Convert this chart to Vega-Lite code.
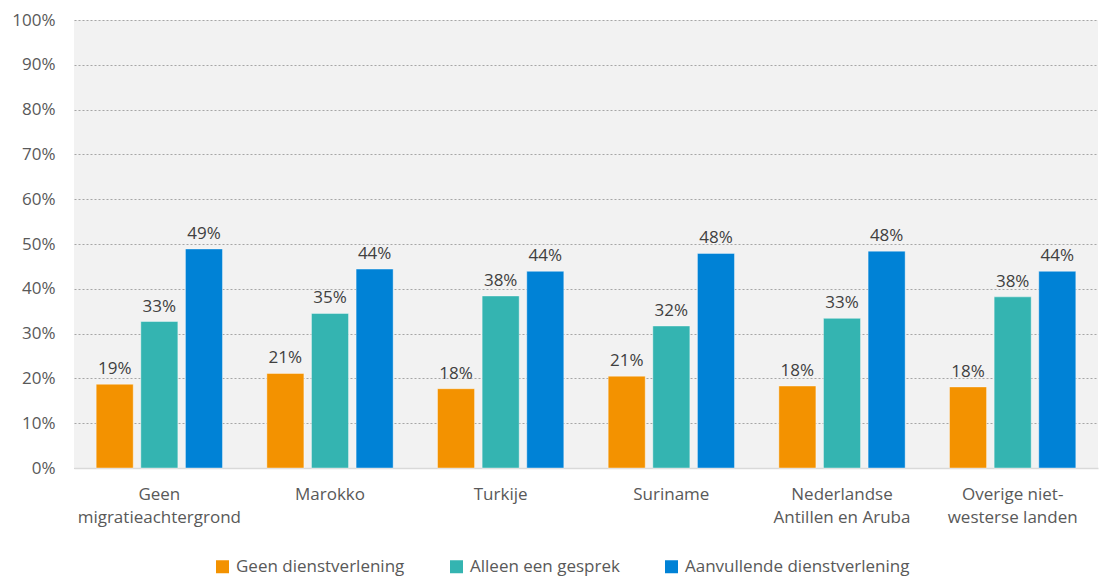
{
  "$schema": "https://vega.github.io/schema/vega-lite/v6.json",
  "width": 1024,
  "height": 448,
  "autosize": {"type": "none"},
  "padding": {"left": 74, "top": 20, "right": 1, "bottom": 108},
  "background": "white",
  "view": {"fill": "#f2f2f2", "stroke": null},
  "data": {
    "values": [
      {"groep": "Geen migratieachtergrond", "type": "Geen dienstverlening", "waarde": 0.187},
      {"groep": "Geen migratieachtergrond", "type": "Alleen een gesprek", "waarde": 0.327},
      {"groep": "Geen migratieachtergrond", "type": "Aanvullende dienstverlening", "waarde": 0.489},
      {"groep": "Marokko", "type": "Geen dienstverlening", "waarde": 0.211},
      {"groep": "Marokko", "type": "Alleen een gesprek", "waarde": 0.345},
      {"groep": "Marokko", "type": "Aanvullende dienstverlening", "waarde": 0.444},
      {"groep": "Turkije", "type": "Geen dienstverlening", "waarde": 0.177},
      {"groep": "Turkije", "type": "Alleen een gesprek", "waarde": 0.384},
      {"groep": "Turkije", "type": "Aanvullende dienstverlening", "waarde": 0.439},
      {"groep": "Suriname", "type": "Geen dienstverlening", "waarde": 0.205},
      {"groep": "Suriname", "type": "Alleen een gesprek", "waarde": 0.317},
      {"groep": "Suriname", "type": "Aanvullende dienstverlening", "waarde": 0.479},
      {"groep": "Nederlandse Antillen en Aruba", "type": "Geen dienstverlening", "waarde": 0.183},
      {"groep": "Nederlandse Antillen en Aruba", "type": "Alleen een gesprek", "waarde": 0.334},
      {"groep": "Nederlandse Antillen en Aruba", "type": "Aanvullende dienstverlening", "waarde": 0.484},
      {"groep": "Overige niet-westerse landen", "type": "Geen dienstverlening", "waarde": 0.181},
      {"groep": "Overige niet-westerse landen", "type": "Alleen een gesprek", "waarde": 0.382},
      {"groep": "Overige niet-westerse landen", "type": "Aanvullende dienstverlening", "waarde": 0.439}
    ]
  },
  "encoding": {
    "x": {
      "field": "groep", "type": "nominal", "sort": null, "title": null,
      "scale": {"paddingInner": 0.26, "paddingOuter": 0.13},
      "axis": {
        "labelAngle": 0, "ticks": false, "domainColor": "#d9d9d9", "domainWidth": 1.5,
        "labelPadding": 18, "labelLineHeight": 23,
        "labelFont": "Open Sans", "labelColor": "#595959", "labelFontSize": 17,
        "labelExpr": "datum.value == 'Geen migratieachtergrond' ? ['Geen', 'migratieachtergrond'] : datum.value == 'Nederlandse Antillen en Aruba' ? ['Nederlandse', 'Antillen en Aruba'] : datum.value == 'Overige niet-westerse landen' ? ['Overige niet-', 'westerse landen'] : datum.value"
      }
    },
    "xOffset": {"field": "type", "type": "nominal", "sort": null, "scale": {"paddingInner": 0.17}},
    "y": {
      "field": "waarde", "type": "quantitative", "title": null,
      "scale": {"domain": [0, 1], "nice": false},
      "axis": {
        "format": ".0%", "values": [0, 0.1, 0.2, 0.3, 0.4, 0.5, 0.6, 0.7, 0.8, 0.9, 1],
        "labelOverlap": false,
        "domain": false, "ticks": false, "labelPadding": 19,
        "labelFont": "Open Sans", "labelColor": "#595959", "labelFontSize": 17,
        "gridColor": "#a6a6a6", "gridDash": [2, 2], "gridWidth": 1
      }
    }
  },
  "layer": [
    {
      "mark": {"type": "bar", "stroke": "white", "strokeOpacity": 0.4, "strokeWidth": 1},
      "encoding": {
        "color": {
          "field": "type", "type": "nominal", "sort": null,
          "scale": {
            "domain": ["Geen dienstverlening", "Alleen een gesprek", "Aanvullende dienstverlening"],
            "range": ["#f39200", "#34b4b1", "#0082d6"]
          },
          "legend": {
            "title": null, "orient": "none", "direction": "horizontal",
            "legendX": 140, "legendY": 538,
            "symbolType": "square", "symbolSize": 169, "symbolStrokeWidth": 0,
            "columnPadding": 43, "labelOffset": 5, "labelLimit": 400,
            "labelFont": "Open Sans", "labelColor": "#595959", "labelFontSize": 17
          }
        }
      }
    },
    {
      "mark": {"type": "text", "dy": -15, "fontSize": 17, "color": "#404040", "font": "Open Sans"},
      "encoding": {"text": {"field": "waarde", "type": "quantitative", "format": ".0%"}}
    }
  ]
}
